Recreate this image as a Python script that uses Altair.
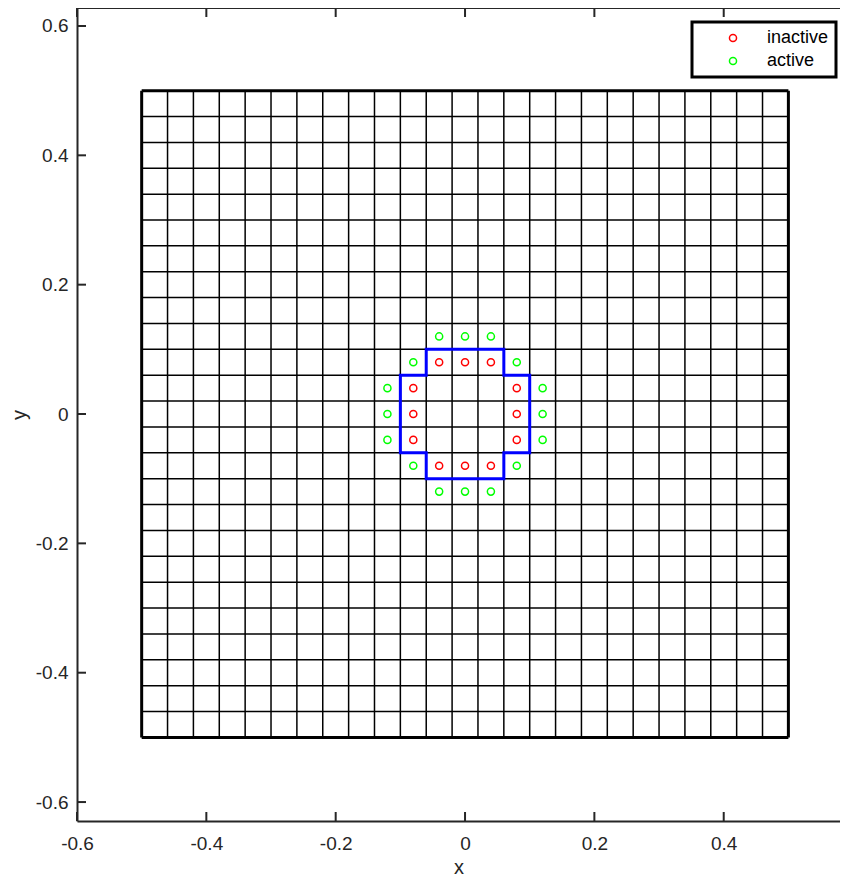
import altair as alt
import pandas as pd

# ---------------- data ----------------
grid_pos = [-0.5, -0.46, -0.42, -0.38, -0.34, -0.3, -0.26, -0.22, -0.18, -0.14,
            -0.1, -0.06, -0.02, 0.02, 0.06, 0.1, 0.14, 0.18, 0.22, 0.26,
            0.3, 0.34, 0.38, 0.42, 0.46, 0.5]

inactive_x = [-0.04, 0.0, 0.04, -0.04, 0.0, 0.04, -0.08, -0.08, -0.08, 0.08, 0.08, 0.08]
inactive_y = [0.08, 0.08, 0.08, -0.08, -0.08, -0.08, -0.04, 0.0, 0.04, -0.04, 0.0, 0.04]

active_x = [-0.04, 0.0, 0.04, -0.04, 0.0, 0.04, -0.12, -0.12, -0.12, 0.12, 0.12, 0.12,
            -0.08, 0.08, -0.08, 0.08]
active_y = [0.12, 0.12, 0.12, -0.12, -0.12, -0.12, -0.04, 0.0, 0.04, -0.04, 0.0, 0.04,
            0.08, 0.08, -0.08, -0.08]

boundary_x = [-0.06, 0.06, 0.06, 0.1, 0.1, 0.06, 0.06, -0.06, -0.06, -0.1, -0.1, -0.06, -0.06]
boundary_y = [0.1, 0.1, 0.06, 0.06, -0.06, -0.06, -0.1, -0.1, -0.06, -0.06, 0.06, 0.06, 0.1]

tick_vals = [-0.6, -0.4, -0.2, 0.0, 0.2, 0.4, 0.6]

# ---------------- layout ----------------
W, H = 763, 813
X_DOM = [-0.6, 0.5798]
Y_DOM = [-0.6293, 0.6278]
AX = "#262626"
FONT = "Liberation Sans"
TICK_LEN = 9

xs = alt.Scale(domain=X_DOM, nice=False, zero=False)
ys = alt.Scale(domain=Y_DOM, nice=False, zero=False)

lab_expr = ("datum.value == 0 ? '0' : (datum.value < 0 ? '-' + format(-datum.value, '.1f')"
            " : format(datum.value, '.1f'))")
x_axis = alt.Axis(values=tick_vals, labelExpr=lab_expr, ticks=False, grid=False,
                  domain=True, domainColor=AX, domainWidth=2, labelFontSize=19,
                  labelColor=AX, labelFont=FONT, labelPadding=13, title="x",
                  titleFontSize=20, titleFont=FONT, titleFontWeight="normal",
                  titleColor=AX, titlePadding=4, labelFlush=False)
y_axis = alt.Axis(values=tick_vals, labelExpr=lab_expr, ticks=False, grid=False,
                  domain=True, domainColor=AX, domainWidth=2, labelFontSize=19,
                  labelColor=AX, labelFont=FONT, labelPadding=9, title="y",
                  titleFontSize=20, titleFont=FONT, titleFontWeight="normal",
                  titleColor=AX, titlePadding=6, labelFlush=False)


def X(field, t="Q"):
    return alt.X(f"{field}:{t}", scale=xs, axis=x_axis)


def Y(field, t="Q"):
    return alt.Y(f"{field}:{t}", scale=ys, axis=y_axis)


edge_w = [3 if abs(abs(g) - 0.5) < 1e-9 else 1.5 for g in grid_pos]
grid_df = pd.DataFrame({"g": grid_pos, "w": edge_w})

vlines = alt.Chart(grid_df).mark_rule(color="black").encode(
    x=X("g"),
    y=alt.YDatum(-0.5, scale=ys, axis=y_axis),
    y2=alt.Y2Datum(0.5),
    strokeWidth=alt.StrokeWidth("w:Q", scale=None),
)
hlines = alt.Chart(grid_df).mark_rule(color="black").encode(
    y=Y("g"),
    x=alt.XDatum(-0.5, scale=xs, axis=x_axis),
    x2=alt.X2Datum(0.5),
    strokeWidth=alt.StrokeWidth("w:Q", scale=None),
)

bnd_df = pd.DataFrame({"bx": boundary_x, "by": boundary_y, "i": list(range(len(boundary_x)))})
boundary = alt.Chart(bnd_df).mark_line(color="#0000ff", strokeWidth=3, strokeJoin="miter",
                                       strokeCap="square").encode(
    x=X("bx"), y=Y("by"), order="i:Q"
)

pts_df = pd.DataFrame({
    "px": inactive_x + active_x,
    "py": inactive_y + active_y,
    "type": ["inactive"] * len(inactive_x) + ["active"] * len(active_x),
})
points = alt.Chart(pts_df).mark_point(shape="circle", filled=False, size=50,
                                      strokeWidth=1.5, opacity=1).encode(
    x=X("px"), y=Y("py"),
    color=alt.Color("type:N",
                    scale=alt.Scale(domain=["inactive", "active"], range=["#ff0000", "#00ff00"]),
                    legend=alt.Legend(orient="none", legendX=615, legendY=14, title=None,
                                      padding=7, strokeColor="black", fillColor="white",
                                      symbolType="circle", symbolSize=50,
                                      symbolStrokeWidth=1.5, symbolOffset=25,
                                      labelOffset=25, labelFontSize=18, labelFont=FONT,
                                      labelColor="black", rowPadding=5)),
)

# axis decorations (inward ticks, top border)
tick_df = pd.DataFrame({"t": tick_vals})
tick_in_x = pd.DataFrame({"t": [v for v in tick_vals if X_DOM[0] <= v <= X_DOM[1]]})

left_ticks = alt.Chart(tick_df).mark_rule(color=AX, strokeWidth=2).encode(
    y=Y("t"), x=alt.value(0), x2=alt.value(TICK_LEN))
bottom_ticks = alt.Chart(tick_in_x).mark_rule(color=AX, strokeWidth=2).encode(
    x=X("t"), y=alt.value(H), y2=alt.value(H - TICK_LEN))
top_ticks = alt.Chart(tick_in_x).mark_rule(color=AX, strokeWidth=2).encode(
    x=X("t"), y=alt.value(0), y2=alt.value(TICK_LEN))
top_border = alt.Chart(pd.DataFrame({"a": [0]})).mark_rule(color=AX, strokeWidth=2).encode(
    x=alt.value(0), x2=alt.value(W), y=alt.value(0))

chart = alt.layer(
    vlines, hlines, boundary, points,
    left_ticks, bottom_ticks, top_ticks, top_border,
).properties(
    width=W, height=H,
    autosize=alt.AutoSizeParams(type="none"),
    padding={"left": 69, "top": 0, "right": 0, "bottom": 57},
).configure_view(stroke=None).configure_legend(strokeWidth=3)

chart.save("out.html", embed_options={"renderer": "svg", "actions": False})
